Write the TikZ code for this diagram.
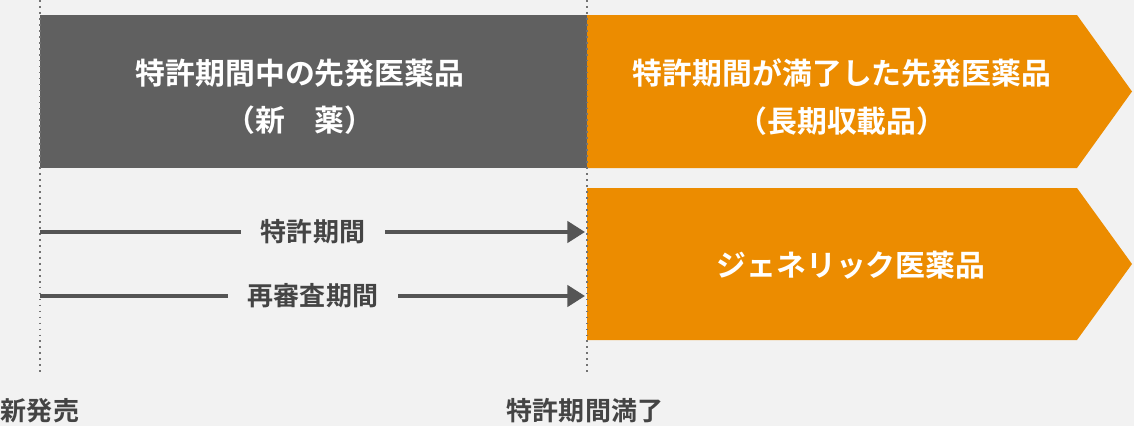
\documentclass[tikz,border=0pt]{standalone}
\usepackage{fontspec}
\newfontfamily\jpfont{Noto Sans CJK JP}[BoldFont={Noto Sans CJK JP Bold}]
\usetikzlibrary{arrows.meta}
\definecolor{bggray}{HTML}{F2F2F2}
\definecolor{boxgray}{HTML}{606060}
\definecolor{boxorange}{HTML}{EC8C00}
\definecolor{linegray}{HTML}{555555}
\definecolor{labelgray}{HTML}{444444}

\begin{document}
\begin{tikzpicture}[x=0.02cm, y=-0.02cm]
    \tikzset{box text/.style={text=white, align=center, font=\jpfont\bfseries\fontsize{17}{27}\selectfont},
             label text/.style={text=labelgray, font=\jpfont\bfseries\fontsize{14.8}{18}\selectfont},
             period/.style={label text, inner xsep=0.4cm},
             period line/.style={linegray, line width=2.2pt},
             guide/.style={black!55, line width=1pt, dash pattern=on 1pt off 2.4pt}}
    \fill[bggray] (0,0) rectangle (1134,426);
    \useasboundingbox (0,0) rectangle (1134,426);
    % boxes
    \fill[boxgray] (40,15) rectangle (587,168);
    \fill[boxorange] (587,15) -- (1077,15) -- (1132,91.5) -- (1077,168) -- (587,168) -- cycle;
    \fill[boxorange] (587,188) -- (1077,188) -- (1132,264) -- (1077,340) -- (587,340) -- cycle;
    \node[box text] (newdrug) at (300,97) {特許期間中の先発医薬品\\（新　薬）};
    \node[box text] (listed) at (842,97) {特許期間が満了した先発医薬品\\（長期収載品）};
    \node[box text] (generic) at (851,265) {ジェネリック医薬品};
    % guides
    \coordinate (launchtop) at (40,0);
    \coordinate (launchend) at (40,373);
    \coordinate (expirytop) at (587,0);
    \coordinate (expiryend) at (587,373);
    \draw[guide] (launchtop) -- (launchend);
    \draw[guide] (expirytop) -- (expiryend);
    \node[label text] (launch) at (40,411) {新発売};
    \node[label text] (expiry) at (585,411) {特許期間満了};
    % periods
    \coordinate (patentstart) at (40,232);
    \coordinate (patentend) at (585,232);
    \coordinate (reviewstart) at (40,296);
    \coordinate (reviewend) at (585,296);
    \node[period] (patent) at (313,232) {特許期間};
    \node[period] (review) at (313,296) {再審査期間};
    \draw[period line] (patentstart) -- (patent.west);
    \draw[period line, -{Triangle[length=10pt, width=12pt]}] (patent.east) -- (patentend);
    \draw[period line] (reviewstart) -- (review.west);
    \draw[period line, -{Triangle[length=10pt, width=12pt]}] (review.east) -- (reviewend);
\end{tikzpicture}
\end{document}
